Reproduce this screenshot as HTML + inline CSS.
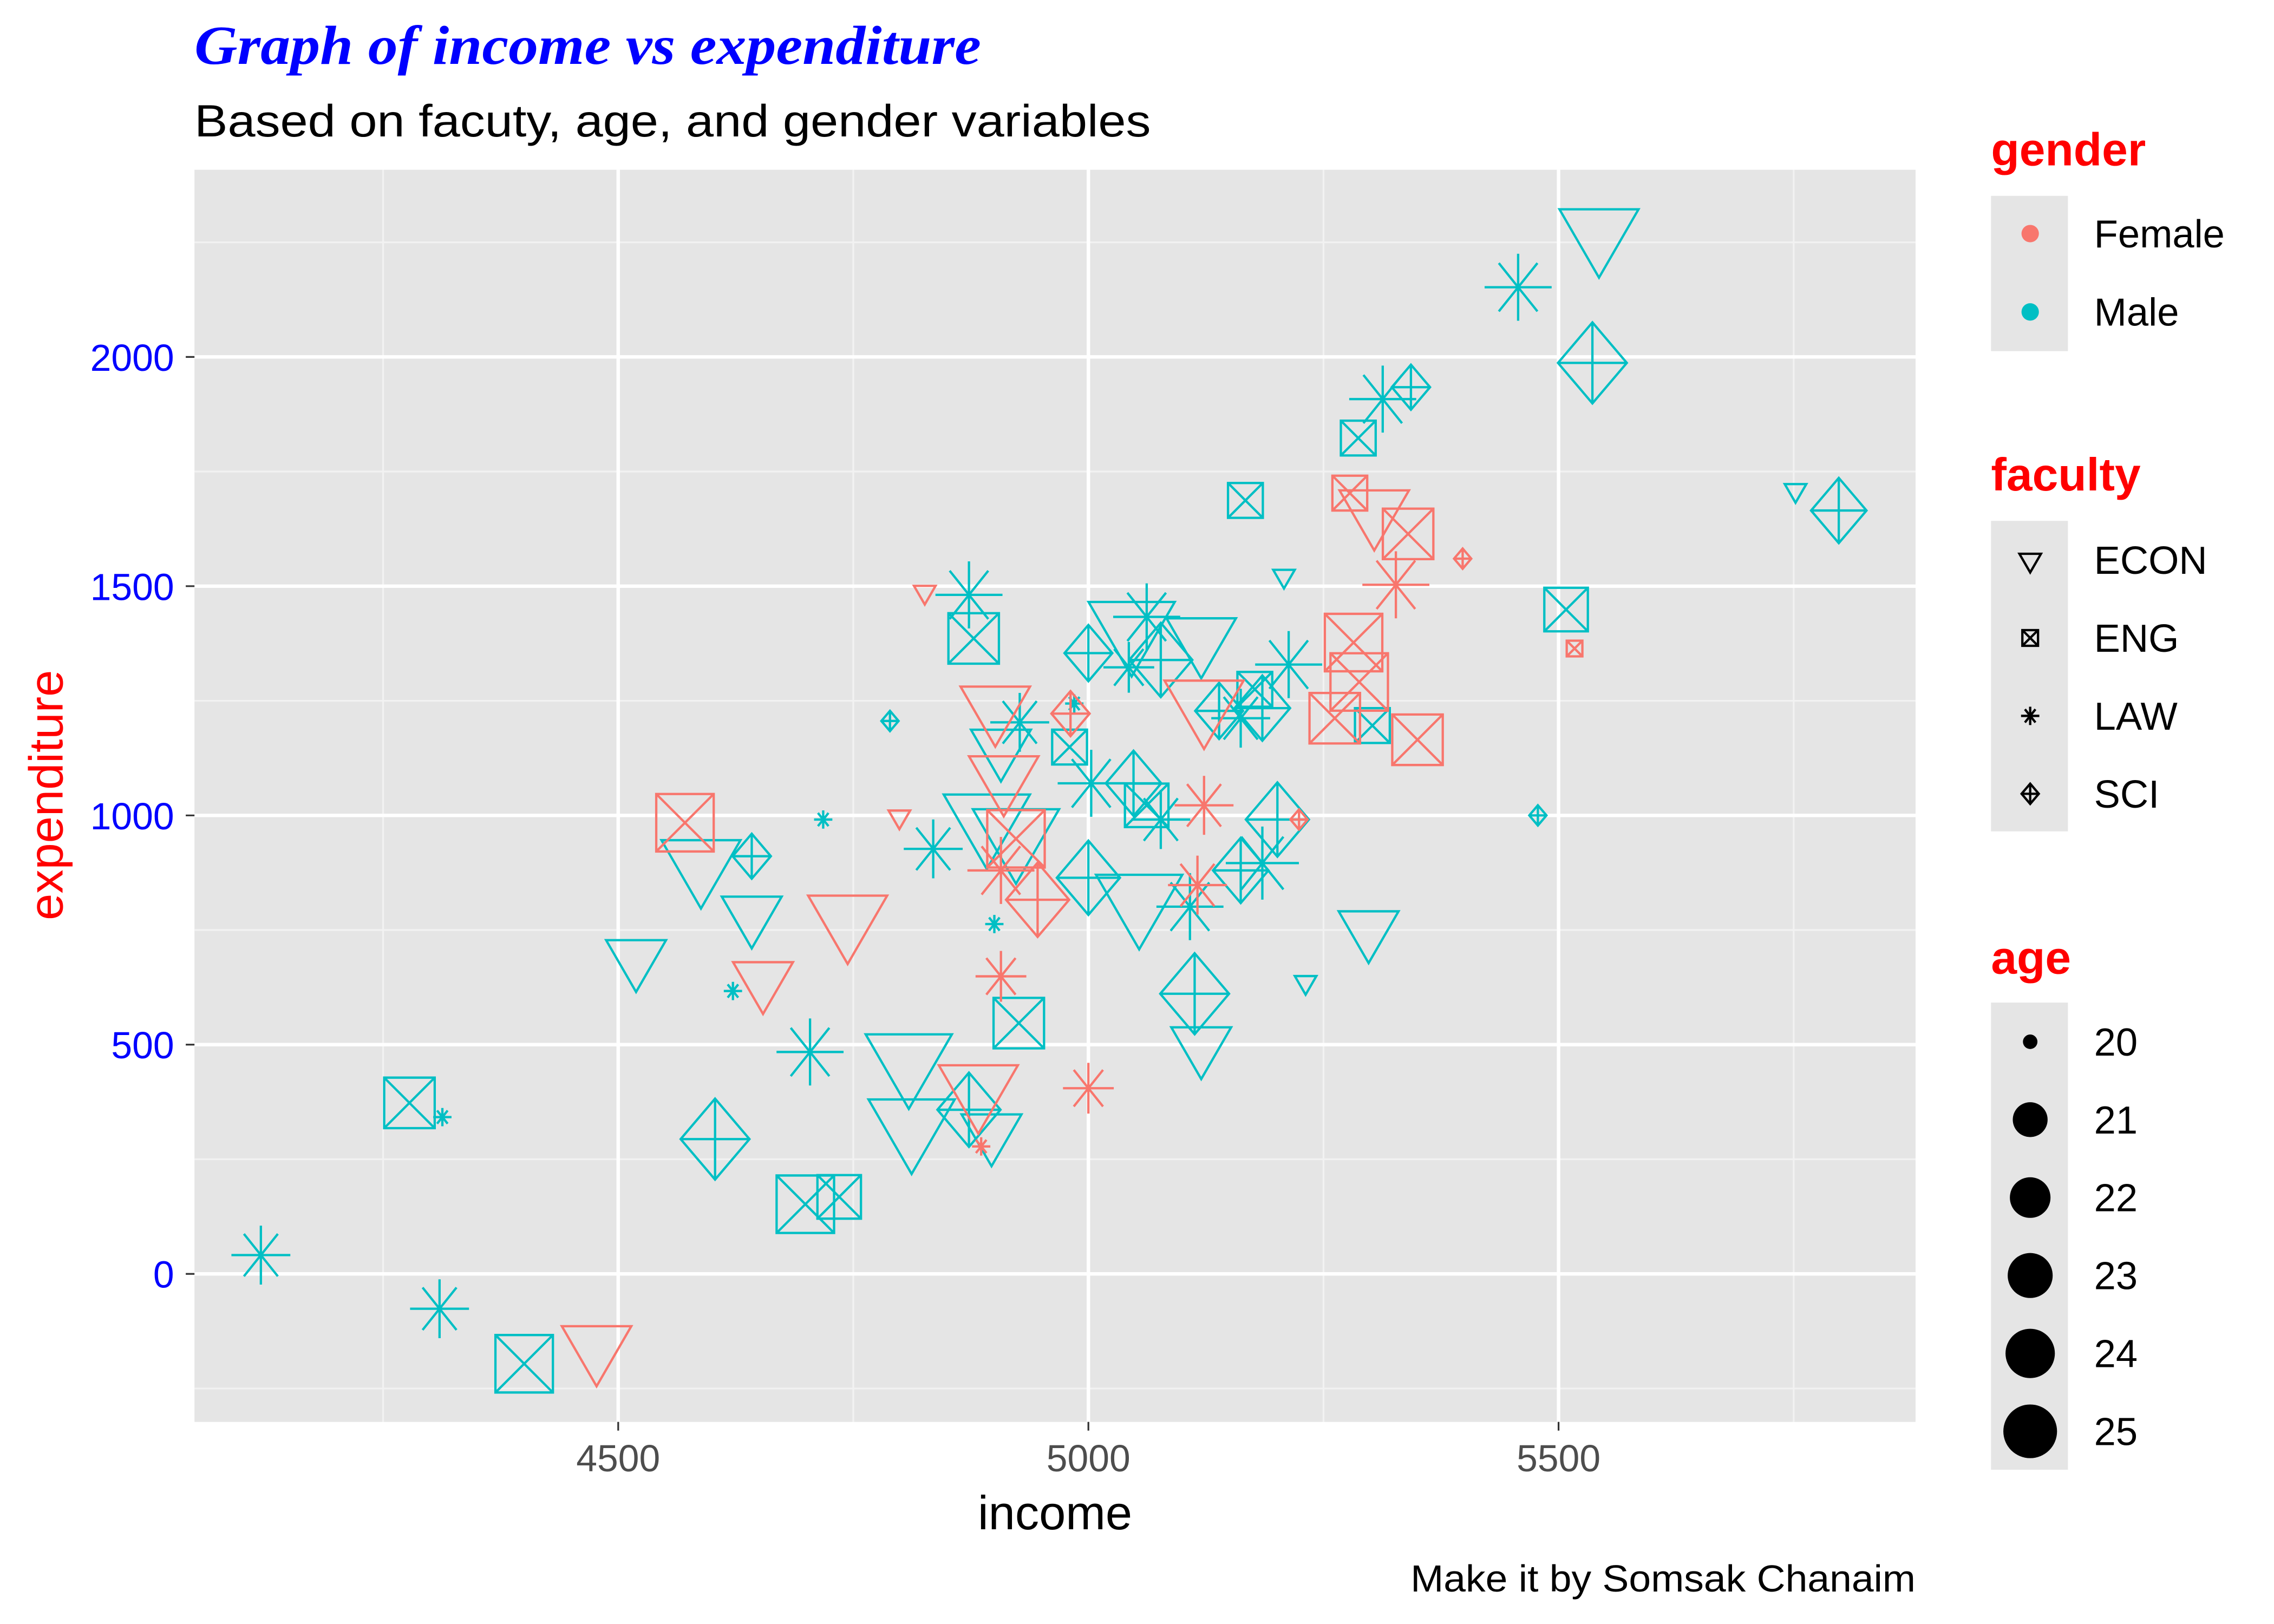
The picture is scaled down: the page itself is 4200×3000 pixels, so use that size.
<!DOCTYPE html>
<html><head><meta charset="utf-8"><style>
html,body{margin:0;padding:0;background:#fff;}
svg{display:block;}
text{font-family:"Liberation Sans",sans-serif;}
</style></head><body>
<svg id="chart" width="4200" height="3000" viewBox="0 0 1567 1119.3" xmlns="http://www.w3.org/2000/svg">
<text x="134" y="44" font-style="italic" font-weight="bold" font-size="38" fill="#0000ff" textLength="542" lengthAdjust="spacingAndGlyphs" style="font-family:'Liberation Serif',serif">Graph of income vs expenditure</text>
<text x="134" y="94" font-size="31" fill="#000" textLength="659" lengthAdjust="spacingAndGlyphs">Based on facuty, age, and gender variables</text>
<rect x="134" y="117" width="1186" height="863" fill="#e5e5e5"/>
<g id="grid"></g>
<g id="points"></g>
<g id="axes"></g>
<text x="727" y="1054" font-size="33" text-anchor="middle" fill="#000">income</text>
<text transform="translate(43,548) rotate(-90)" font-size="33" text-anchor="middle" fill="#ff0000">expenditure</text>
<text x="1320" y="1097" font-size="26" text-anchor="end" fill="#000" textLength="348" lengthAdjust="spacingAndGlyphs">Make it by Somsak Chanaim</text>
<g id="legend"></g>
</svg>
<script>
const xTicks=[4500,5000,5500];
const xMinor=[4250,4750,5250,5750];
const yTicks=[0,500,1000,1500,2000];
const yMinor=[-250,250,750,1250,1750,2250];
const maleIncome=[5543,5457,5536,5313,5343,5287,5167,5752,5798,5208,5508,4873,4878,5000,5046,5062,5120,5043,5077,5213,5177,5185,5162,5139,5302,4985,4980,4927,4907,5048,5003,5062,5077,4892,5201,4923,4835,4642,4718,4588,5000,5054,5185,5108,5162,4642,4519,5298,4900,4622,5231,5113,4926,5120,4704,4809,4603,4812,4873,4897,4278,4313,4699,4735,4120,4310,4400,4789,5478];
const maleExp=[2272,2152,1987,1908,1934,1823,1687,1709,1665,1522,1449,1481,1386,1354,1411,1433,1386,1323,1339,1329,1275,1234,1212,1228,1196,1244,1149,1203,1149,1070,1070,1022,991,991,991,959,927,911,991,896,864,816,896,801,880,785,690,753,763,617,636,611,547,500,484,468,294,326,358,310,373,342,152,168,41,-76,-196,1206,1000];
const maleFaculty=["ECON","LAW","SCI","LAW","SCI","ENG","ENG","ECON","SCI","ECON","ENG","LAW","ENG","SCI","ECON","LAW","ECON","LAW","SCI","LAW","ENG","SCI","LAW","SCI","ENG","LAW","ENG","LAW","ECON","SCI","LAW","ENG","LAW","ECON","SCI","ECON","LAW","SCI","LAW","ECON","SCI","ECON","LAW","LAW","SCI","ECON","ECON","ECON","LAW","LAW","ECON","SCI","ENG","ECON","LAW","ECON","SCI","ECON","SCI","ECON","ENG","LAW","ENG","ENG","LAW","LAW","ENG","SCI","SCI"];
const maleAge=[24,24,25,24,21,21,21,20,23,20,22,24,23,22,25,24,23,22,24,24,21,23,23,22,21,20,21,23,22,23,24,22,23,25,24,25,23,21,20,24,24,25,25,24,23,22,22,22,20,20,20,25,23,22,24,25,25,25,24,22,23,20,24,22,23,23,24,20,20];
const femaleIncome=[5278,5304,5340,5398,5327,4826,5282,5288,5262,5350,5517,5123,4901,4981,4910,5123,4571,4799,4923,5224,4907,4946,5116,4744,4654,4907,5000,4883,4886,4477];
const femaleExp=[1703,1665,1614,1560,1503,1487,1377,1291,1212,1165,1364,1244,1237,1222,1085,1022,984,997,949,991,880,816,848,775,642,649,405,405,278,-158];
const femaleFaculty=["ENG","ECON","ENG","SCI","LAW","ECON","ENG","ENG","ENG","ENG","ENG","ECON","ECON","SCI","ECON","LAW","ENG","ECON","ENG","SCI","LAW","SCI","LAW","ECON","ECON","LAW","LAW","ECON","LAW","ECON"];
const femaleAge=[21,23,23,20,24,20,24,24,23,23,20,24,23,21,23,23,24,20,24,20,24,24,23,24,22,22,22,24,20,23];
const ageLevels=[20,21,22,23,24,25];
const facultyLevels=["ECON","ENG","LAW","SCI"];

const NS="http://www.w3.org/2000/svg";
const X=v=>426+(v-4500)*0.648;
const Y=v=>878-v*0.316;
const sizeOf=a=>({20:4.5,21:10,22:12.5,23:14.5,24:16.5,25:18})[a];
function mk(tag,attrs,parent){const e=document.createElementNS(NS,tag);for(const k in attrs)e.setAttribute(k,attrs[k]);parent.appendChild(e);return e;}
const grid=document.getElementById('grid');
xMinor.forEach(v=>{const l=mk('line',{x1:X(v),x2:X(v),y1:117,y2:980,stroke:'#f2f2f2','stroke-width':1.2},grid);

});
yMinor.forEach(v=>{const l=mk('line',{x1:134,x2:1320,y1:Y(v),y2:Y(v),stroke:'#f2f2f2','stroke-width':1.2},grid);

});
xTicks.forEach(v=>{const l=mk('line',{x1:X(v),x2:X(v),y1:117,y2:980,stroke:'#fff','stroke-width':2.4},grid);

});
yTicks.forEach(v=>{const l=mk('line',{x1:134,x2:1320,y1:Y(v),y2:Y(v),stroke:'#fff','stroke-width':2.4},grid);

});
const axes=document.getElementById('axes');
xTicks.forEach(v=>{const t=mk('line',{x1:X(v),x2:X(v),y1:980,y2:986,stroke:'#333','stroke-width':1.2},axes);


const tx=mk('text',{x:X(v),y:1014,'font-size':26,'text-anchor':'middle',fill:'#4d4d4d'},axes);tx.textContent=v;

});
yTicks.forEach(v=>{const t=mk('line',{x1:128,x2:134,y1:Y(v),y2:Y(v),stroke:'#333','stroke-width':1.2},axes);


const tx=mk('text',{x:120,y:Y(v)+9.5,'font-size':26,'text-anchor':'end',fill:'#0000ff'},axes);tx.textContent=v;

});

function shape(g,fac,cx,cy,s,col){
  const a={fill:'none',stroke:col,'stroke-width':1.6};
  let d='';
  if(fac==='ECON'){const h=s*1.65;d=`M${cx-h},${cy-h*0.58}L${cx+h},${cy-h*0.58}L${cx},${cy+h*1.15}Z`;}
  else if(fac==='ENG'){const h=s*1.2;d=`M${cx-h},${cy-h}H${cx+h}V${cy+h}H${cx-h}Z M${cx-h},${cy-h}L${cx+h},${cy+h}M${cx+h},${cy-h}L${cx-h},${cy+h}`;}
  else if(fac==='LAW'){const h=s*1.4,k=h*0.72;d=`M${cx-h},${cy}H${cx+h}M${cx},${cy-h}V${cy+h}M${cx-k*0.8},${cy-k}L${cx+k*0.8},${cy+k}M${cx+k*0.8},${cy-k}L${cx-k*0.8},${cy+k}`;}
  else {const h=s*1.55;d=`M${cx},${cy-h}L${cx+h*0.85},${cy}L${cx},${cy+h}L${cx-h*0.85},${cy}Z M${cx-h*0.85},${cy}H${cx+h*0.85}M${cx},${cy-h}V${cy+h}`;}
  a.d=d;return mk('path',a,g);
}
const pts=document.getElementById('points');
function series(inc,exp,fac,age,col,nm){
  for(let i=0;i<inc.length;i++){
    const p=shape(pts,fac[i],X(inc[i]),Y(exp[i]),sizeOf(age[i]),col);
    
    
  }
}
series(maleIncome,maleExp,maleFaculty,maleAge,'#00BFC4','male');
series(femaleIncome,femaleExp,femaleFaculty,femaleAge,'#F8766D','female');

const lg=document.getElementById('legend');
function title(t,y,nm){const e=mk('text',{x:1372,y:y,'font-size':32,'font-weight':'bold',fill:'#ff0000'},lg);e.textContent=t;

}
function label(t,y){const e=mk('text',{x:1443,y:y+9.5,'font-size':27,fill:'#000'},lg);e.textContent=t;

}
title('gender',114,'gender-legend-title');
let r=mk('rect',{x:1372,y:135,width:53,height:107,fill:'#e5e5e5'},lg);


[['Female','#F8766D',161],['Male','#00BFC4',215]].forEach(([n,c,y])=>{const d=mk('circle',{cx:1399,cy:y,r:6,fill:c},lg);


label(n,y);});
title('faculty',338,'faculty-legend-title');
r=mk('rect',{x:1372,y:359,width:53,height:214,fill:'#e5e5e5'},lg);


facultyLevels.forEach((f,i)=>{const y=386+i*53.7;const p=shape(lg,f,1399,y,4.5,'#000');


label(f,y);});
title('age',671,'age-legend-title');
r=mk('rect',{x:1372,y:691,width:53,height:322,fill:'#e5e5e5'},lg);


const legR={20:5,21:12,22:14,23:15.5,24:17,25:18.5};
ageLevels.forEach((a,i)=>{const y=718+i*53.7;const c=mk('circle',{cx:1399,cy:y,r:legR[a],fill:'#000'},lg);


label(String(a),y);});
</script>
</body></html>
